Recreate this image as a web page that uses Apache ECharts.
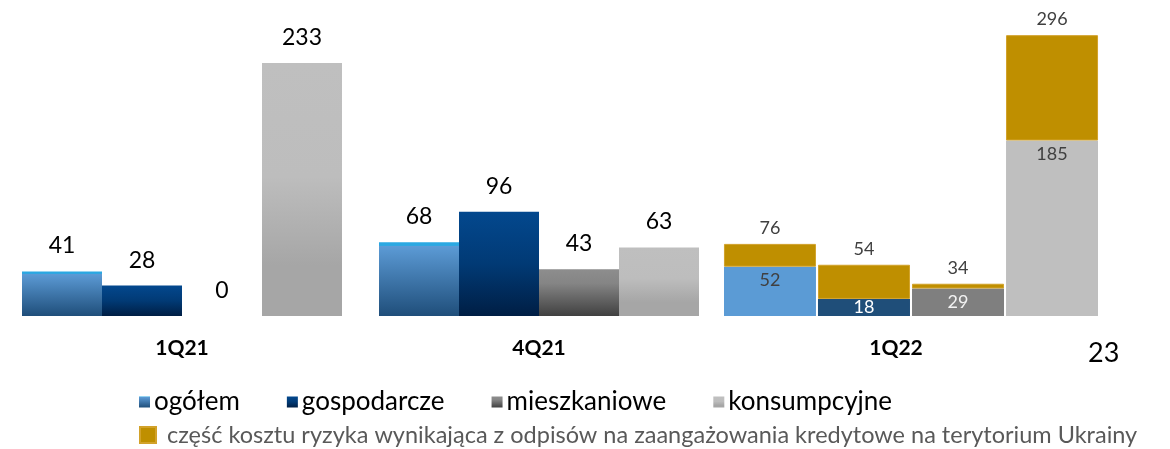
<!DOCTYPE html>
<html lang="pl">
<head>
    <meta charset="UTF-8">
    <title>Koszt ryzyka</title>
    <script src="https://cdn.jsdelivr.net/npm/echarts@6/dist/echarts.min.js"></script>
    <style>
        html, body { margin: 0; padding: 0; background: #fff; }
        #chart { width: 1170px; height: 449px; }
    </style>
</head>
<body>
<div id="chart"></div>
<script>
    // dane
    var quarters = ['1Q21', '4Q21', '1Q22'];
    var ogolem = [41, 68, 52];
    var gospodarcze = [28, 96, 18];
    var mieszkaniowe = [0, 43, 29];
    var konsumpcyjne = [233, 63, 185];
    // 1Q22: wartości łącznie z częścią związaną z Ukrainą (etykiety nad słupkami)
    var razem1Q22 = [76, 54, 34, 296];

    var names = ['ogółem', 'gospodarcze', 'mieszkaniowe', 'konsumpcyjne'];
    var ukrName = 'część kosztu ryzyka wynikająca z odpisów na zaangażowania kredytowe na terytorium Ukrainy';
    var FONT = 'Lato, "Noto Sans", sans-serif';

    function grad(stops) {
        return new echarts.graphic.LinearGradient(0, 0, 0, 1, stops);
    }

    var fills = [
        grad([{offset: 0, color: '#2aa8e2'}, {offset: 0.045, color: '#2aa8e2'}, {offset: 0.05, color: '#5c9bd6'}, {offset: 1, color: '#1f4e7a'}]),
        grad([{offset: 0, color: '#03488e'}, {offset: 0.5, color: '#013a75'}, {offset: 1, color: '#001e44'}]),
        grad([{offset: 0, color: '#8d8d8d'}, {offset: 0.3, color: '#858585'}, {offset: 1, color: '#404040'}]),
        grad([{offset: 0, color: '#bfbfbf'}, {offset: 0.45, color: '#bdbdbd'}, {offset: 0.8, color: '#a6a6a6'}, {offset: 1, color: '#a6a6a6'}])
    ];
    var flat = ['#5b9bd5', '#1f4e79', '#7f7f7f', '#bfbfbf'];
    var innerLabelColor = ['#404040', '#ffffff', '#f2f2f2', '#404040'];
    // niski słupek - etykieta przy podstawie, żeby się zmieściła
    var innerLabelPos = ['insideTop', 'insideBottom', 'insideTop', 'insideTop'];
    var innerLabelDist = [5, 0, 5, 5];
    var groups = [ogolem, gospodarcze, mieszkaniowe, konsumpcyjne];

    var series = [];
    // 1Q21 i 4Q21
    for (var i = 0; i < 4; i++) {
        series.push({
            name: names[i],
            type: 'bar',
            xAxisIndex: 0,
            yAxisIndex: 0,
            barWidth: 80,
            barGap: 0,
            itemStyle: { color: fills[i] },
            label: {
                show: true,
                position: 'top',
                distance: 14,
                color: '#000',
                fontSize: 23,
                fontFamily: FONT
            },
            data: [groups[i][0], groups[i][1], '-']
        });
    }
    // 1Q22 - słupki skumulowane
    for (var j = 0; j < 4; j++) {
        var base = groups[j][2];
        series.push({
            name: names[j],
            type: 'bar',
            xAxisIndex: 1,
            yAxisIndex: 1,
            stack: 's' + j,
            barWidth: 92,
            barGap: '2.2%',
            itemStyle: { color: flat[j] },
            label: {
                show: true,
                position: innerLabelPos[j],
                distance: innerLabelDist[j],
                color: innerLabelColor[j],
                fontSize: 18,
                fontFamily: FONT
            },
            data: [base]
        });
        series.push({
            name: ukrName,
            type: 'bar',
            xAxisIndex: 1,
            yAxisIndex: 1,
            stack: 's' + j,
            barWidth: 92,
            barGap: '2.2%',
            itemStyle: { color: '#bf8f00', borderColor: '#d2a22a', borderWidth: 1 },
            label: {
                show: true,
                position: 'top',
                distance: 7,
                color: '#404040',
                fontSize: 18,
                fontFamily: FONT,
                formatter: (function (t) { return function () { return t; }; })(razem1Q22[j])
            },
            data: [razem1Q22[j] - base]
        });
    }

    var option = {
        animation: false,
        grid: [
            { left: 3.5, right: 95.5, top: 1, bottom: 133 },
            { left: 724, right: 72, top: 1, bottom: 133 }
        ],
        xAxis: [
            {
                type: 'category',
                gridIndex: 0,
                data: quarters,
                axisLine: { show: false },
                axisTick: { show: false },
                axisLabel: {
                    margin: 22,
                    color: '#000',
                    fontSize: 21,
                    fontWeight: 'bold',
                    fontFamily: FONT
                }
            },
            {
                type: 'category',
                gridIndex: 1,
                data: ['1Q22'],
                show: false
            }
        ],
        yAxis: [
            { type: 'value', gridIndex: 0, min: 0, max: 290, show: false },
            { type: 'value', gridIndex: 1, min: 0, max: 332, show: false }
        ],
        legend: [
            {
                data: names,
                left: 134,
                top: 384,
                icon: 'rect',
                itemWidth: 11,
                itemHeight: 11,
                itemGap: 47,
                textStyle: { color: '#000', fontSize: 26, fontFamily: FONT, padding: [0, 0, 0, -1] }
            },
            {
                data: [ukrName],
                left: 134,
                top: 418,
                icon: 'rect',
                itemWidth: 16,
                itemHeight: 16,
                itemGap: 10,
                textStyle: { color: '#595959', fontSize: 23.5, fontFamily: FONT, padding: [0, 0, 0, 6] }
            }
        ],
        graphic: [
            {
                type: 'text',
                left: 1088,
                top: 340,
                style: { text: '23', fontSize: 27, fill: '#000', fontFamily: FONT }
            }
        ],
        series: series
    };

    var myChart = echarts.init(document.getElementById('chart'));
    myChart.setOption(option);
</script>
</body>
</html>
